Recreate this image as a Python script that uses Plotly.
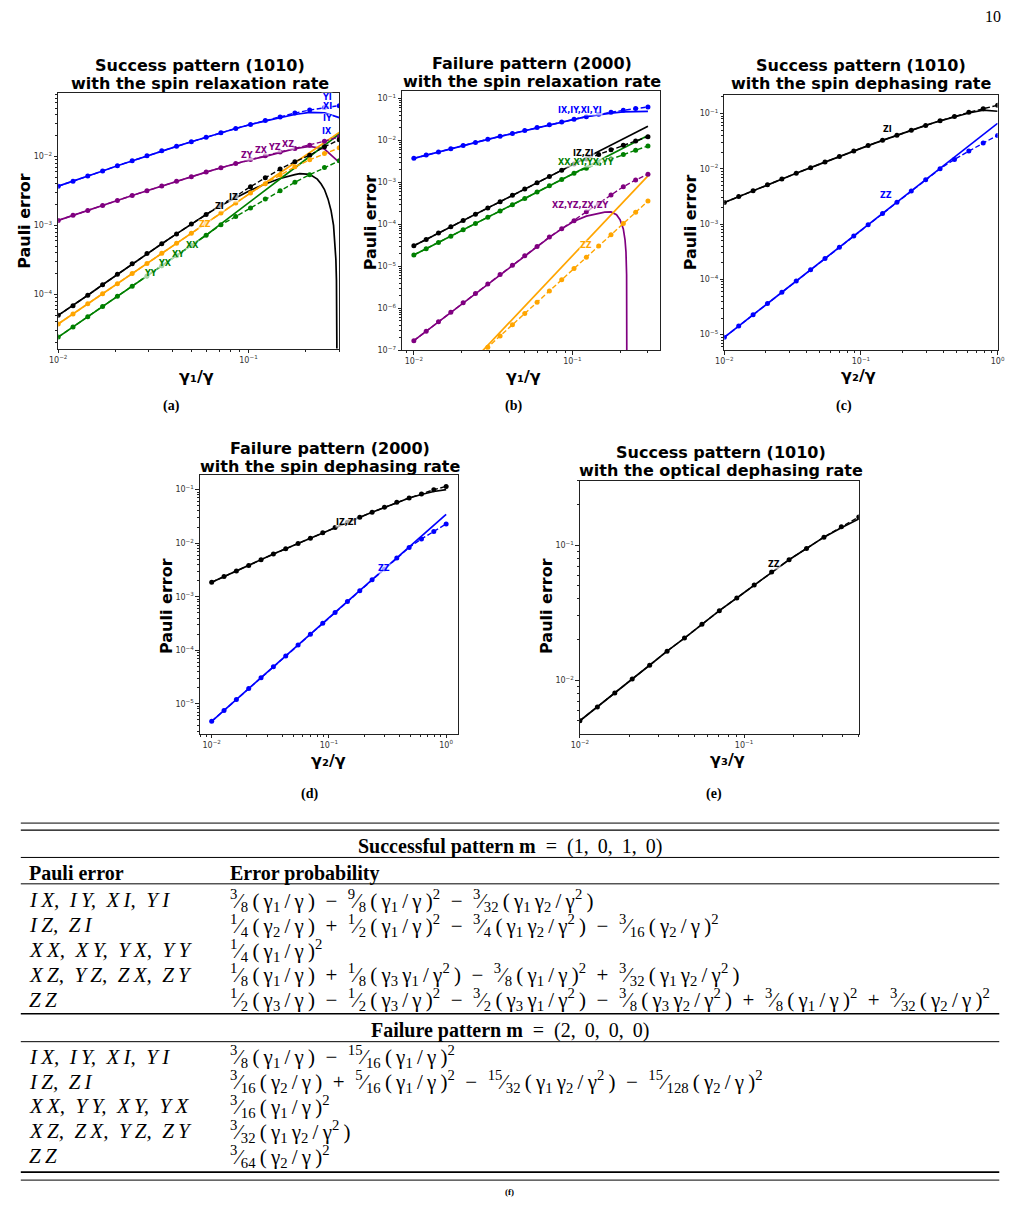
import math
import plotly.graph_objects as go

W, H = 1023, 1209

# ---------------- data ----------------
X_RELAX = [0.01, 0.01196, 0.01430, 0.01711, 0.02047, 0.02448, 0.02928, 0.03502, 0.04188, 0.05009,
           0.05991, 0.07166, 0.08570, 0.10250, 0.12259, 0.14662, 0.17537, 0.20974, 0.25086, 0.30]
X_DEPHASE = [0.01, 0.01274, 0.01624, 0.02069, 0.02637, 0.03360, 0.04281, 0.05456, 0.06952, 0.08859,
             0.11288, 0.14384, 0.18330, 0.23357, 0.29764, 0.37927, 0.48329, 0.61585, 0.78476, 1.0]
X_OPTICAL = [0.01, 0.01277, 0.01631, 0.02082, 0.02659, 0.03396, 0.04336, 0.05538, 0.07071, 0.09030,
             0.11531, 0.14725, 0.18803, 0.24012, 0.30663, 0.39156, 0.5]

# (a) success pattern (1010), spin relaxation
A_IX_SIM = [3.70e-3, 4.35e-3, 5.20e-3, 6.14e-3, 7.33e-3, 8.66e-3, 1.02e-2, 1.21e-2, 1.40e-2, 1.63e-2,
            1.90e-2, 2.20e-2, 2.54e-2, 2.90e-2, 3.31e-2, 3.74e-2, 4.25e-2, 4.70e-2, 5.10e-2, 5.45e-2]
A_IX_TH = [3.70e-3, 4.35e-3, 5.20e-3, 6.14e-3, 7.33e-3, 8.66e-3, 1.02e-2, 1.21e-2, 1.40e-2, 1.63e-2,
           1.90e-2, 2.20e-2, 2.54e-2, 2.90e-2, 3.28e-2, 3.65e-2, 4.05e-2, 4.35e-2, 4.30e-2, 3.65e-2]
A_XZ_SIM = [1.18e-3, 1.40e-3, 1.65e-3, 1.95e-3, 2.30e-3, 2.71e-3, 3.18e-3, 3.73e-3, 4.37e-3, 5.09e-3,
            5.92e-3, 6.84e-3, 7.87e-3, 9.00e-3, 1.02e-2, 1.16e-2, 1.30e-2, 1.45e-2, 1.66e-2, 1.92e-2]
A_XZ_TH = [1.18e-3, 1.40e-3, 1.65e-3, 1.95e-3, 2.30e-3, 2.71e-3, 3.18e-3, 3.73e-3, 4.37e-3, 5.09e-3,
           5.92e-3, 6.84e-3, 7.87e-3, 9.00e-3, 1.00e-2, 1.13e-2, 1.30e-2, 1.40e-2, 1.28e-2, 8.20e-3]
A_IZ_SIM = [4.97e-5, 6.85e-5, 9.68e-5, 1.38e-4, 1.95e-4, 2.77e-4, 3.92e-4, 5.41e-4, 7.53e-4, 1.05e-3,
            1.44e-3, 1.98e-3, 2.64e-3, 3.64e-3, 4.92e-3, 6.56e-3, 8.38e-3, 1.04e-2, 1.38e-2, 1.74e-2]
A_IZ_TH_X = [0.01, 0.01196, 0.01430, 0.01711, 0.02047, 0.02448, 0.02928, 0.03502, 0.04188, 0.05009,
             0.05991, 0.07166, 0.08570, 0.10250, 0.12259, 0.14662, 0.17537, 0.186, 0.20974, 0.23,
             0.241, 0.25086, 0.262, 0.2717, 0.28, 0.285, 0.288, 0.29, 0.2915, 0.292]
A_IZ_TH = [4.97e-5, 6.85e-5, 9.68e-5, 1.38e-4, 1.95e-4, 2.77e-4, 3.92e-4, 5.41e-4, 7.53e-4, 1.05e-3,
           1.44e-3, 1.95e-3, 2.51e-3, 3.24e-3, 3.98e-3, 4.79e-3, 5.43e-3, 5.62e-3, 5.50e-3, 4.68e-3,
           3.98e-3, 3.31e-3, 2.40e-3, 1.64e-3, 1.0e-3, 5.7e-4, 3.2e-4, 1.6e-4, 4.0e-5, 8.0e-6]
A_ZZ_SIM = [3.72e-5, 5.21e-5, 7.29e-5, 1.02e-4, 1.43e-4, 2.00e-4, 2.80e-4, 3.93e-4, 5.50e-4, 7.69e-4,
            1.08e-3, 1.51e-3, 2.11e-3, 2.95e-3, 4.03e-3, 5.37e-3, 7.08e-3, 8.91e-3, 1.10e-2, 1.33e-2]
A_ZZ_TH = [3.72e-5, 5.21e-5, 7.29e-5, 1.02e-4, 1.43e-4, 2.00e-4, 2.80e-4, 3.93e-4, 5.50e-4, 7.69e-4,
           1.08e-3, 1.51e-3, 2.11e-3, 2.95e-3, 4.13e-3, 5.78e-3, 8.09e-3, 1.13e-2, 1.58e-2, 2.22e-2]
A_XX_SIM = [2.40e-5, 3.37e-5, 4.73e-5, 6.65e-5, 9.35e-5, 1.31e-4, 1.85e-4, 2.59e-4, 3.64e-4, 5.12e-4,
            7.18e-4, 1.02e-3, 1.34e-3, 1.79e-3, 2.42e-3, 3.19e-3, 4.22e-3, 5.42e-3, 6.93e-3, 8.63e-3]
A_XX_TH = [2.40e-5, 3.37e-5, 4.73e-5, 6.65e-5, 9.35e-5, 1.31e-4, 1.85e-4, 2.59e-4, 3.64e-4, 5.12e-4,
           7.18e-4, 1.05e-3, 1.52e-3, 2.22e-3, 3.23e-3, 4.70e-3, 6.85e-3, 9.98e-3, 1.45e-2, 2.10e-2]

# (b) failure pattern (2000), spin relaxation
B_IX_SIM = [3.76e-3, 4.50e-3, 5.37e-3, 6.40e-3, 7.60e-3, 9.02e-3, 1.07e-2, 1.26e-2, 1.48e-2, 1.74e-2,
            2.04e-2, 2.38e-2, 2.77e-2, 3.21e-2, 3.71e-2, 4.26e-2, 4.73e-2, 5.25e-2, 5.82e-2, 6.34e-2]
B_IX_TH = [3.76e-3, 4.50e-3, 5.37e-3, 6.40e-3, 7.60e-3, 9.02e-3, 1.07e-2, 1.26e-2, 1.48e-2, 1.74e-2,
           2.04e-2, 2.38e-2, 2.77e-2, 3.21e-2, 3.71e-2, 4.17e-2, 4.52e-2, 4.81e-2, 4.98e-2, 4.95e-2]
B_IZ_SIM = [3.11e-5, 4.40e-5, 6.21e-5, 8.77e-5, 1.24e-4, 1.75e-4, 2.47e-4, 3.49e-4, 4.93e-4, 6.97e-4,
            9.84e-4, 1.39e-3, 1.96e-3, 2.75e-3, 3.63e-3, 4.68e-3, 6.03e-3, 7.76e-3, 9.77e-3, 1.23e-2]
B_IZ_TH = [3.11e-5, 4.40e-5, 6.21e-5, 8.77e-5, 1.24e-4, 1.75e-4, 2.47e-4, 3.49e-4, 4.93e-4, 6.97e-4,
           9.84e-4, 1.39e-3, 1.96e-3, 2.77e-3, 3.92e-3, 5.53e-3, 7.82e-3, 1.10e-2, 1.56e-2, 2.20e-2]
B_XX_SIM = [1.87e-5, 2.64e-5, 3.72e-5, 5.26e-5, 7.43e-5, 1.05e-4, 1.48e-4, 2.09e-4, 2.96e-4, 4.18e-4,
            5.90e-4, 8.34e-4, 1.18e-3, 1.66e-3, 2.19e-3, 2.82e-3, 3.63e-3, 4.68e-3, 5.89e-3, 7.41e-3]
B_XX_TH = [1.87e-5, 2.64e-5, 3.72e-5, 5.26e-5, 7.43e-5, 1.05e-4, 1.48e-4, 2.09e-4, 2.96e-4, 4.18e-4,
           5.90e-4, 8.34e-4, 1.18e-3, 1.66e-3, 2.35e-3, 3.32e-3, 4.69e-3, 6.62e-3, 9.35e-3, 1.32e-2]
B_XZ_SIM = [1.69e-7, 2.84e-7, 4.76e-7, 8.02e-7, 1.35e-6, 2.26e-6, 3.80e-6, 6.38e-6, 1.07e-5, 1.80e-5,
            2.99e-5, 5.01e-5, 7.94e-5, 1.23e-4, 2.00e-4, 3.16e-4, 5.01e-4, 7.94e-4, 1.15e-3, 1.57e-3]
B_XZ_TH_X = [0.01, 0.01196, 0.01430, 0.01711, 0.02047, 0.02448, 0.02928, 0.03502, 0.04188, 0.05009,
             0.05991, 0.07166, 0.08570, 0.10250, 0.12259, 0.14662, 0.160, 0.17537, 0.19, 0.20,
             0.20974, 0.215, 0.218, 0.220, 0.2206, 0.2209]
B_XZ_TH = [1.69e-7, 2.84e-7, 4.76e-7, 8.02e-7, 1.35e-6, 2.26e-6, 3.80e-6, 6.38e-6, 1.07e-5, 1.80e-5,
           2.99e-5, 4.90e-5, 7.85e-5, 1.19e-4, 1.58e-4, 1.88e-4, 1.97e-4, 1.99e-4, 1.70e-4, 1.30e-4,
           7.8e-5, 4.3e-5, 2.2e-5, 6.3e-6, 1.3e-6, 1.0e-8]
B_ZZ_SIM = [2.91e-9, 5.40e-9, 1.0e-8, 1.85e-8, 3.44e-8, 6.37e-8, 1.18e-7, 2.19e-7, 4.06e-7, 7.52e-7,
            1.39e-6, 2.58e-6, 4.79e-6, 8.87e-6, 1.64e-5, 3.05e-5, 5.65e-5, 1.05e-4, 1.94e-4, 3.60e-4]
B_ZZ_TH = [1.79e-9, 3.66e-9, 7.48e-9, 1.53e-8, 3.13e-8, 6.40e-8, 1.31e-7, 2.68e-7, 5.47e-7, 1.12e-6,
           2.29e-6, 4.69e-6, 9.59e-6, 1.96e-5, 4.01e-5, 8.20e-5, 1.68e-4, 3.44e-4, 7.02e-4, 1.44e-3]

# (c) success pattern (1010), spin dephasing
C_ZI_SIM = [2.45e-3, 3.14e-3, 4.02e-3, 5.13e-3, 6.53e-3, 8.30e-3, 1.05e-2, 1.33e-2, 1.67e-2, 2.10e-2,
            2.63e-2, 3.27e-2, 4.06e-2, 4.99e-2, 6.10e-2, 7.38e-2, 8.85e-2, 0.105, 0.122, 0.141]
C_ZI_TH = [2.45e-3, 3.14e-3, 4.02e-3, 5.13e-3, 6.53e-3, 8.30e-3, 1.05e-2, 1.33e-2, 1.67e-2, 2.10e-2,
           2.63e-2, 3.27e-2, 4.06e-2, 4.99e-2, 6.10e-2, 7.38e-2, 8.67e-2, 0.102, 0.115, 0.110]
C_ZZ_SIM = [8.95e-6, 1.43e-5, 2.29e-5, 3.66e-5, 5.85e-5, 9.33e-5, 1.49e-4, 2.39e-4, 3.82e-4, 6.10e-4,
            9.75e-4, 1.56e-3, 2.49e-3, 3.98e-3, 6.37e-3, 1.00e-2, 1.48e-2, 2.09e-2, 2.92e-2, 4.02e-2]
C_ZZ_TH = [8.95e-6, 1.43e-5, 2.29e-5, 3.66e-5, 5.85e-5, 9.33e-5, 1.49e-4, 2.39e-4, 3.82e-4, 6.10e-4,
           9.75e-4, 1.56e-3, 2.49e-3, 3.98e-3, 6.37e-3, 1.02e-2, 1.63e-2, 2.60e-2, 4.15e-2, 6.64e-2]

# (d) failure pattern (2000), spin dephasing
D_IZ_SIM = [1.86e-3, 2.38e-3, 3.03e-3, 3.85e-3, 4.92e-3, 6.27e-3, 7.87e-3, 9.91e-3, 1.24e-2, 1.56e-2,
            1.96e-2, 2.47e-2, 3.05e-2, 3.78e-2, 4.69e-2, 5.81e-2, 7.00e-2, 8.30e-2, 0.100, 0.115]
D_IZ_TH = [1.86e-3, 2.38e-3, 3.03e-3, 3.85e-3, 4.92e-3, 6.27e-3, 7.87e-3, 9.91e-3, 1.24e-2, 1.56e-2,
           1.96e-2, 2.47e-2, 3.05e-2, 3.78e-2, 4.69e-2, 5.81e-2, 7.00e-2, 8.13e-2, 9.23e-2, 0.100]
D_ZZ_SIM = [4.71e-6, 7.52e-6, 1.20e-5, 1.92e-5, 3.06e-5, 4.90e-5, 7.82e-5, 1.25e-4, 2.00e-4, 3.18e-4,
            5.08e-4, 8.13e-4, 1.30e-3, 2.07e-3, 3.31e-3, 5.28e-3, 8.32e-3, 1.20e-2, 1.66e-2, 2.29e-2]
D_ZZ_TH = [4.71e-6, 7.52e-6, 1.20e-5, 1.92e-5, 3.06e-5, 4.90e-5, 7.82e-5, 1.25e-4, 2.00e-4, 3.18e-4,
           5.08e-4, 8.13e-4, 1.30e-3, 2.07e-3, 3.31e-3, 5.28e-3, 8.43e-3, 1.35e-2, 2.15e-2, 3.44e-2]

# (e) success pattern (1010), optical dephasing
E_ZZ_SIM = [5.01e-3, 6.32e-3, 8.02e-3, 1.02e-2, 1.29e-2, 1.64e-2, 2.05e-2, 2.59e-2, 3.27e-2, 4.06e-2,
            5.07e-2, 6.32e-2, 7.80e-2, 9.44e-2, 0.1146, 0.1365, 0.1618]
E_ZZ_TH = [5.01e-3, 6.32e-3, 8.02e-3, 1.02e-2, 1.29e-2, 1.64e-2, 2.05e-2, 2.59e-2, 3.27e-2, 4.06e-2,
           5.07e-2, 6.32e-2, 7.80e-2, 9.44e-2, 0.1146, 0.1343, 0.1563]

TITLES = [("Success pattern (1010)", "with the spin relaxation rate"),
          ("Failure pattern (2000)", "with the spin relaxation rate"),
          ("Success pattern (1010)", "with the spin dephasing rate"),
          ("Failure pattern (2000)", "with the spin dephasing rate"),
          ("Success pattern (1010)", "with the optical dephasing rate")]
XLABELS = ["γ₁/γ", "γ₁/γ", "γ₂/γ", "γ₂/γ", "γ₃/γ"]
YLABEL = "Pauli error"
SUBLABELS = ["(a)", "(b)", "(c)", "(d)", "(e)"]

TABLE_SUCCESS_ROWS = [["IX", "IY", "XI", "YI"], ["IZ", "ZI"], ["XX", "XY", "YX", "YY"], ["XZ", "YZ", "ZX", "ZY"], ["ZZ"]]
TABLE_FAILURE_ROWS = [["IX", "IY", "XI", "YI"], ["IZ", "ZI"], ["XX", "YY", "XY", "YX"], ["XZ", "ZX", "YZ", "ZY"], ["ZZ"]]

# ---------------- styling ----------------
BLUE, PURPLE, BLACK, ORANGE, GREEN = "#0000ff", "#800080", "#000000", "#ffa500", "#008000"
SANS = "DejaVu Sans"
SERIF = "Liberation Serif"

AX = [
    dict(box=(50, 335.5, 93, 350), xr=(-2, math.log10(0.3)), yr=(-4.786, -1.075), xd=(-2, -1), yd=(-4, -2)),
    dict(box=(399.3, 661, 91.7, 351.7), xr=(-2.0745, -0.449), yr=(-7, -0.826), xd=(-2, -1), yd=(-7, -1)),
    dict(box=(726.7, 1004.3, 95, 351.7), xr=(-2, 0), yr=(-5.282, -0.658), xd=(-2, 0), yd=(-5, -1)),
    dict(box=(194, 456, 476.7, 736.7), xr=(-2.1, 0.1), yr=(-5.558, -0.721), xd=(-2, 0), yd=(-5, -1)),
    dict(box=(580, 863.3, 482.7, 736.7), xr=(-2, math.log10(0.5)), yr=(-2.396, -0.523), xd=(-2, -1), yd=(-2, -1)),
]

PANEL_TRACES = [
    [(X_RELAX, A_IX_TH, BLUE, "th"), (X_RELAX, A_XZ_TH, PURPLE, "th"), (A_IZ_TH_X, A_IZ_TH, BLACK, "th"),
     (X_RELAX, A_ZZ_TH, ORANGE, "th"), (X_RELAX, A_XX_TH, GREEN, "th"),
     (X_RELAX, A_IX_SIM, BLUE, "sim"), (X_RELAX, A_XZ_SIM, PURPLE, "sim"), (X_RELAX, A_IZ_SIM, BLACK, "sim"),
     (X_RELAX, A_ZZ_SIM, ORANGE, "sim"), (X_RELAX, A_XX_SIM, GREEN, "sim")],
    [(X_RELAX, B_IX_TH, BLUE, "th"), (X_RELAX, B_IZ_TH, BLACK, "th"), (X_RELAX, B_XX_TH, GREEN, "th"),
     (B_XZ_TH_X, B_XZ_TH, PURPLE, "th"), (X_RELAX, B_ZZ_TH, ORANGE, "th"),
     (X_RELAX, B_IX_SIM, BLUE, "sim"), (X_RELAX, B_IZ_SIM, BLACK, "sim"), (X_RELAX, B_XX_SIM, GREEN, "sim"),
     (X_RELAX, B_XZ_SIM, PURPLE, "sim"), (X_RELAX, B_ZZ_SIM, ORANGE, "sim")],
    [(X_DEPHASE, C_ZI_TH, BLACK, "th"), (X_DEPHASE, C_ZZ_TH, BLUE, "th"),
     (X_DEPHASE, C_ZI_SIM, BLACK, "sim"), (X_DEPHASE, C_ZZ_SIM, BLUE, "sim")],
    [(X_DEPHASE, D_IZ_TH, BLACK, "th"), (X_DEPHASE, D_ZZ_TH, BLUE, "th"),
     (X_DEPHASE, D_IZ_SIM, BLACK, "sim"), (X_DEPHASE, D_ZZ_SIM, BLUE, "sim")],
    [(X_OPTICAL, E_ZZ_TH, BLACK, "th"), (X_OPTICAL, E_ZZ_SIM, BLACK, "sim")],
]

PANEL_LABELS = [
    [("YI", -0.585, -1.144, BLUE), ("XI", -0.585, -1.274, BLUE), ("IY", -0.585, -1.447, BLUE),
     ("IX", -0.585, -1.635, BLUE),
     ("ZY", -1.007, -1.981, PURPLE), ("ZX", -0.934, -1.919, PURPLE), ("YZ", -0.864, -1.870, PURPLE),
     ("XZ", -0.791, -1.822, PURPLE),
     ("ZI", -1.154, -2.727, BLACK), ("IZ", -1.079, -2.602, BLACK), ("ZZ", -1.226, -2.987, ORANGE),
     ("YY", -1.513, -3.698, GREEN), ("YX", -1.437, -3.554, GREEN), ("XY", -1.368, -3.420, GREEN),
     ("XX", -1.292, -3.290, GREEN)],
    [("IX,IY,XI,YI", -0.952, -1.285, BLUE), ("IZ,ZI", -0.927, -2.314, BLACK),
     ("XX,XY,YX,YY", -0.911, -2.527, GREEN), ("XZ,YZ,ZX,ZY", -0.952, -3.542, PURPLE),
     ("ZZ", -0.915, -4.508, ORANGE)],
    [("ZI", -0.804, -1.288, BLACK), ("ZZ", -0.818, -2.490, BLUE)],
    [("IZ,ZI", -0.849, -1.606, BLACK), ("ZZ", -0.534, -2.474, BLUE)],
    [("ZZ", -0.815, -1.147, BLACK)],
]

TITLE_POS = [(194, 66, 84), (531, 64, 82), (866, 66, 84), (326, 450, 468), (723, 454, 472)]
XLAB_POS = [(190, 378), (523, 378), (863, 377), (325, 764), (730, 763)]
YLAB_POS = [(15, 222), (367, 223), (692, 223), (160, 608), (546, 608)]
SUB_POS = [(165, 408), (513, 408), (848, 408), (305, 797), (716, 797)]


def px(x):
    return x / W


def py(y):
    return 1 - y / H


def pw(e):
    return "10<sup>%s</sup>" % ("0" if e == 0 else "−%d" % (-e))


fig = go.Figure()
annotations = []
shapes = []
layout_axes = {}

for k, ax in enumerate(AX):
    n = k + 1
    xa = "x" if n == 1 else "x%d" % n
    ya = "y" if n == 1 else "y%d" % n
    l, r, t, b = ax["box"]
    xmaj = list(range(ax["xd"][0], ax["xd"][1] + 1))
    ymaj = list(range(ax["yd"][0], ax["yd"][1] + 1))
    xminor = [m * 10 ** d for d in range(math.floor(ax["xr"][0]), math.ceil(ax["xr"][1]) + 1) for m in range(2, 10)]
    yminor = [m * 10 ** d for d in range(math.floor(ax["yr"][0]), math.ceil(ax["yr"][1]) + 1) for m in range(2, 10)]
    common = dict(type="log", showgrid=False, zeroline=False, showline=True, mirror=True,
                  linecolor="#222", linewidth=1, ticks="outside", ticklen=3.5, tickwidth=0.8,
                  tickcolor="#222", tickfont=dict(family=SANS, size=8, color="#333"))
    layout_axes["xaxis" if n == 1 else "xaxis%d" % n] = dict(
        common, domain=[px(l), px(r)], range=list(ax["xr"]), anchor=ya,
        tickmode="array", tickvals=[10 ** e for e in xmaj], ticktext=[pw(e) for e in xmaj],
        minor=dict(tickmode="array", tickvals=xminor, ticks="outside", ticklen=2, tickwidth=0.6, tickcolor="#222"))
    layout_axes["yaxis" if n == 1 else "yaxis%d" % n] = dict(
        common, domain=[py(b), py(t)], range=list(ax["yr"]), anchor=xa,
        tickmode="array", tickvals=[10 ** e for e in ymaj], ticktext=[pw(e) for e in ymaj],
        minor=dict(tickmode="array", tickvals=yminor, ticks="outside", ticklen=2, tickwidth=0.6, tickcolor="#222"))

    for xs, ys, col, kind in PANEL_TRACES[k]:
        if kind == "th":
            fig.add_trace(go.Scatter(x=xs, y=ys, mode="lines", xaxis=xa, yaxis=ya,
                                     line=dict(color=col, width=1.7), hoverinfo="skip"))
        else:
            fig.add_trace(go.Scatter(x=xs, y=ys, mode="lines+markers", xaxis=xa, yaxis=ya,
                                     line=dict(color=col, width=1.4, dash="5px,2.5px"),
                                     marker=dict(color=col, size=5), hoverinfo="skip"))

    for txt_, lx, ly, col in PANEL_LABELS[k]:
        annotations.append(dict(x=lx, y=ly, xref=xa, yref=ya, text="<b>%s</b>" % txt_, showarrow=False,
                                font=dict(family=SANS, size=8, color=col),
                                bgcolor="rgba(255,255,255,0.65)", borderpad=0))

    tx, ty1, ty2 = TITLE_POS[k]
    for line_txt, ty in zip(TITLES[k], (ty1, ty2)):
        annotations.append(dict(x=px(tx), y=py(ty), xref="paper", yref="paper", showarrow=False,
                                text="<b>%s</b>" % line_txt, font=dict(family=SANS, size=16, color="black"),
                                xanchor="center", yanchor="middle"))
    xx, xy = XLAB_POS[k]
    annotations.append(dict(x=px(xx), y=py(xy), xref="paper", yref="paper", showarrow=False,
                            text="<b>%s</b>" % XLABELS[k], font=dict(family=SANS, size=16, color="black"),
                            xanchor="center", yanchor="middle"))
    yx, yy = YLAB_POS[k]
    annotations.append(dict(x=px(yx), y=py(yy), xref="paper", yref="paper", showarrow=False,
                            text="<b>%s</b>" % YLABEL, textangle=-90,
                            font=dict(family=SANS, size=16, color="black"),
                            xanchor="center", yanchor="middle"))
    sx, sy = SUB_POS[k]
    annotations.append(dict(x=px(sx), y=py(sy), xref="paper", yref="paper", showarrow=False,
                            text="<b>%s</b>" % SUBLABELS[k], font=dict(family=SERIF, size=14, color="black"),
                            xanchor="center", yanchor="middle"))

annotations.append(dict(x=px(1000), y=py(17), xref="paper", yref="paper", showarrow=False, text="10",
                        font=dict(family=SERIF, size=16, color="black"), xanchor="center", yanchor="middle"))

# ---------------- table (f) ----------------
TS = "\u2009"   # thin space
EN = "\u2002"   # en space


def fr(n, d):
    return "<sup>%s</sup>⁄<sub>%s</sub>%s" % (n, d, TS)


def body(*parts):
    return TS.join(parts)


G1, G2, G3 = "γ<sub>1</sub>", "γ<sub>2</sub>", "γ<sub>3</sub>"
SQ = "<sup>2</sup>"
M = EN + "−" + EN
P = EN + "+" + EN


def ratio(a):          # (a/γ)
    return body("(", a, "/", "γ", ")")


def ratio2(a):         # (a/γ)^2
    return body("(", a, "/", "γ", ")") + SQ


def prod(a, b):        # (a b/γ^2)
    return body("(", a, b, "/", "γ" + SQ, ")")


SUCCESS_FORMULAS = [
    fr(3, 8) + ratio(G1) + M + fr(9, 8) + ratio2(G1) + M + fr(3, 32) + prod(G1, G2),
    fr(1, 4) + ratio(G2) + P + fr(1, 2) + ratio2(G1) + M + fr(3, 4) + prod(G1, G2) + M + fr(3, 16) + ratio2(G2),
    fr(1, 4) + ratio2(G1),
    fr(1, 8) + ratio(G1) + P + fr(1, 8) + prod(G3, G1) + M + fr(3, 8) + ratio2(G1) + P + fr(3, 32) + prod(G1, G2),
    fr(1, 2) + ratio(G3) + M + fr(1, 2) + ratio2(G3) + M + fr(3, 2) + prod(G3, G1) + M + fr(3, 8) + prod(G3, G2)
    + P + fr(3, 8) + ratio2(G1) + P + fr(3, 32) + ratio2(G2),
]
FAILURE_FORMULAS = [
    fr(3, 8) + ratio(G1) + M + fr(15, 16) + ratio2(G1),
    fr(3, 16) + ratio(G2) + P + fr(5, 16) + ratio2(G1) + M + fr(15, 32) + prod(G1, G2) + M + fr(15, 128) + ratio2(G2),
    fr(3, 16) + ratio2(G1),
    fr(3, 32) + prod(G1, G2),
    fr(3, 64) + ratio2(G2),
]


def paulis(lst):
    return ("," + EN).join(TS.join(list(p)) for p in lst)


TL, TR = 12, 1006
RULES = [(826.5, 1), (833.5, 1.3), (861, 1), (887.5, 1), (1018, 1.6), (1046, 1), (1177, 1.6), (1185, 1)]
for yline, wline in RULES:
    shapes.append(dict(type="line", xref="paper", yref="paper", x0=px(TL), x1=px(TR), y0=py(yline), y1=py(yline),
                       line=dict(color="black", width=wline)))


def txt(x, y, s, size=21, anchor="left", family=SERIF):
    annotations.append(dict(x=px(x), y=py(y), xref="paper", yref="paper", showarrow=False, text=s,
                            font=dict(family=family, size=size, color="black"), xanchor=anchor, yanchor="middle"))


HDR_S = "<b>Successful pattern</b> <b>m</b>" + EN + "=" + EN + "(1," + TS + " 0," + TS + " 1," + TS + " 0)"
HDR_F = "<b>Failure pattern</b> <b>m</b>" + EN + "=" + EN + "(2," + TS + " 0," + TS + " 0," + TS + " 0)"
txt(509, 850, HDR_S, 20, "center")
txt(18, 877, "<b>Pauli error</b>", 20)
txt(222, 877, "<b>Error probability</b>", 20)
ROW_Y_S = [904, 929, 954, 979, 1004]
ROW_Y_F = [1061, 1086, 1111, 1136, 1161]
for yy, lab, f in zip(ROW_Y_S, TABLE_SUCCESS_ROWS, SUCCESS_FORMULAS):
    txt(18, yy, "<i>%s</i>" % paulis(lab), 21)
    txt(222, yy, f, 21)
txt(509, 1035, HDR_F, 20, "center")
for yy, lab, f in zip(ROW_Y_F, TABLE_FAILURE_ROWS, FAILURE_FORMULAS):
    txt(18, yy, "<i>%s</i>" % paulis(lab), 21)
    txt(222, yy, f, 21)
txt(508, 1197, "<b>(f)</b>", 9, "center")

fig.update_layout(width=W, height=H, margin=dict(l=0, r=0, t=0, b=0), paper_bgcolor="white",
                  plot_bgcolor="white", showlegend=False, annotations=annotations, shapes=shapes,
                  **layout_axes)

fig.write_html("out.html")
